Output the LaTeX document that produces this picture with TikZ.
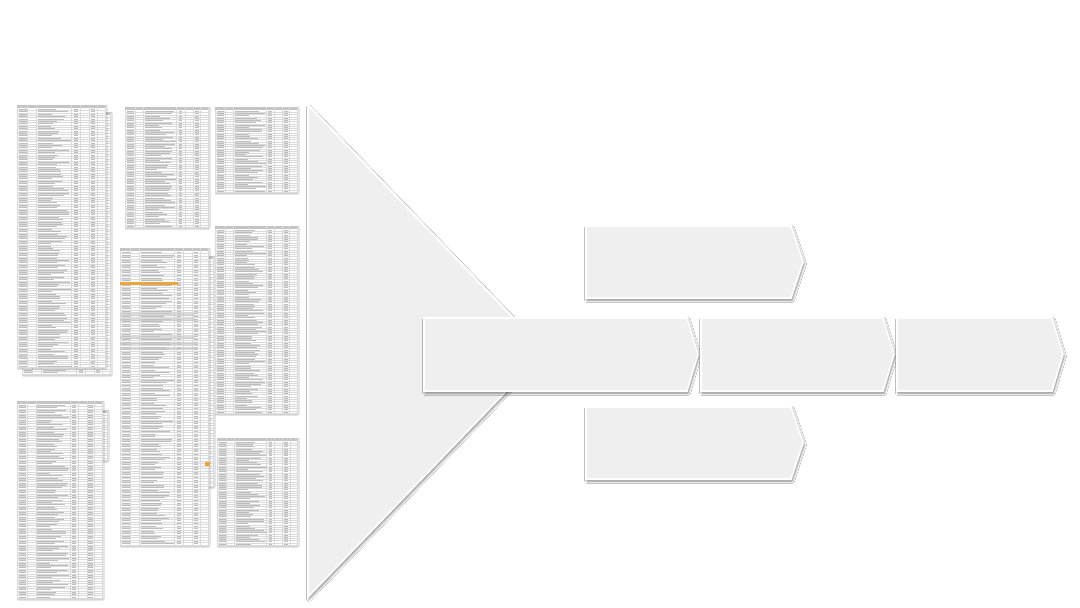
\documentclass[tikz,border=0pt]{standalone}
\usetikzlibrary{shadows,shadows.blur}
\definecolor{panel}{HTML}{EFEFEF}
\definecolor{hdr}{HTML}{C4C4C4}
\definecolor{rowln}{HTML}{DADADA}
\definecolor{txt}{HTML}{BDBDBD}
\definecolor{hilite}{HTML}{F2A23A}
\tikzset{
  panelshape/.style={fill=panel, draw=white, line width=1.6pt, line join=miter,
    blur shadow={shadow xshift=1pt, shadow yshift=-2pt, shadow blur radius=2.5pt,
      shadow blur steps=6, shadow opacity=50}},
  sheetbox/.style={fill=white, draw=rowln, line width=0.3pt,
    blur shadow={shadow xshift=1pt, shadow yshift=-1.2pt, shadow blur radius=1pt,
      shadow blur steps=3, shadow opacity=25}},
  rowline/.style={draw=rowln, line width=0.25pt},
  txtbar/.style={draw=txt, line width=0.5pt},
}
% spreadsheet thumbnail: left, top, width, height, rows
\newcommand{\sheet}[5]{%
  \path[sheetbox] (#1,#2) rectangle ++(#3,#4);
  \fill[hdr] (#1,#2) rectangle ++(#3,3);
  \foreach \c in {0.12,0.22,0.62,0.72,0.82,0.91}
    \draw[rowline] ({#1+\c*#3},#2) -- ++(0,#4);
  \pgfmathsetmacro{\rowh}{(#4-3)/#5}
  \foreach \r in {1,...,#5}{
    \pgfmathsetmacro{\ya}{#2+3+\r*\rowh}
    \pgfmathsetmacro{\yt}{\ya-0.5*\rowh}
    \pgfmathsetmacro{\len}{0.14+0.24*rnd}
    \draw[rowline] (#1,\ya) -- ++(#3,0);
    \draw[txtbar] ({#1+0.02*#3},\yt) -- ++({0.09*#3},0);
    \draw[txtbar] ({#1+0.24*#3},\yt) -- ++({\len*#3},0);
    \draw[txtbar] ({#1+0.65*#3},\yt) -- ++({0.04*#3},0);
    \draw[txtbar] ({#1+0.84*#3},\yt) -- ++({0.05*#3},0);
  }
}
% arrow panel: left, top, bottom, end of straight part, tip
\newcommand{\chev}[5]{%
  \path[panelshape] (#1,#2) -- (#4,#2) -- (#5,{(#2+#3)/2}) -- (#4,#3) -- (#1,#3) -- cycle;
}
\begin{document}
\begin{tikzpicture}[x=1pt,y=-1pt]
  \pgfmathsetseed{7}
  \useasboundingbox[fill=white] (0,0) rectangle (1080,608);
  % source sheets
  \sheet{22}{112}{88}{262}{100}
  \sheet{17}{105}{88}{262}{108}
  \sheet{22}{410}{85}{50}{20}
  \sheet{17}{401}{85}{197}{80}
  \sheet{125}{107}{83}{120}{50}
  \sheet{125}{256}{88}{230}{90}
  \sheet{120}{248}{88}{297}{115}
  \fill[hilite] (120,282) rectangle (178,285);
  \foreach \y in {313,318,336,342,347}
    \fill[hdr,opacity=0.6] (120,\y) rectangle (195,{\y+2.6});
  \fill[hilite] (205,462) rectangle (210,466);
  \sheet{215}{107}{82}{85}{36}
  \sheet{215}{226}{82}{187}{80}
  \sheet{217}{438}{80}{107}{46}
  % funnel
  \path[panelshape] (308,105) -- (545,351) -- (308,597) -- cycle;
  % stages
  \chev{586}{226}{298}{791}{803}
  \chev{586}{407}{479}{791}{803}
  \chev{424}{318}{391}{687}{698}
  \chev{701}{318}{391}{883}{894}
  \chev{897}{318}{391}{1052}{1063}
\end{tikzpicture}
\end{document}
